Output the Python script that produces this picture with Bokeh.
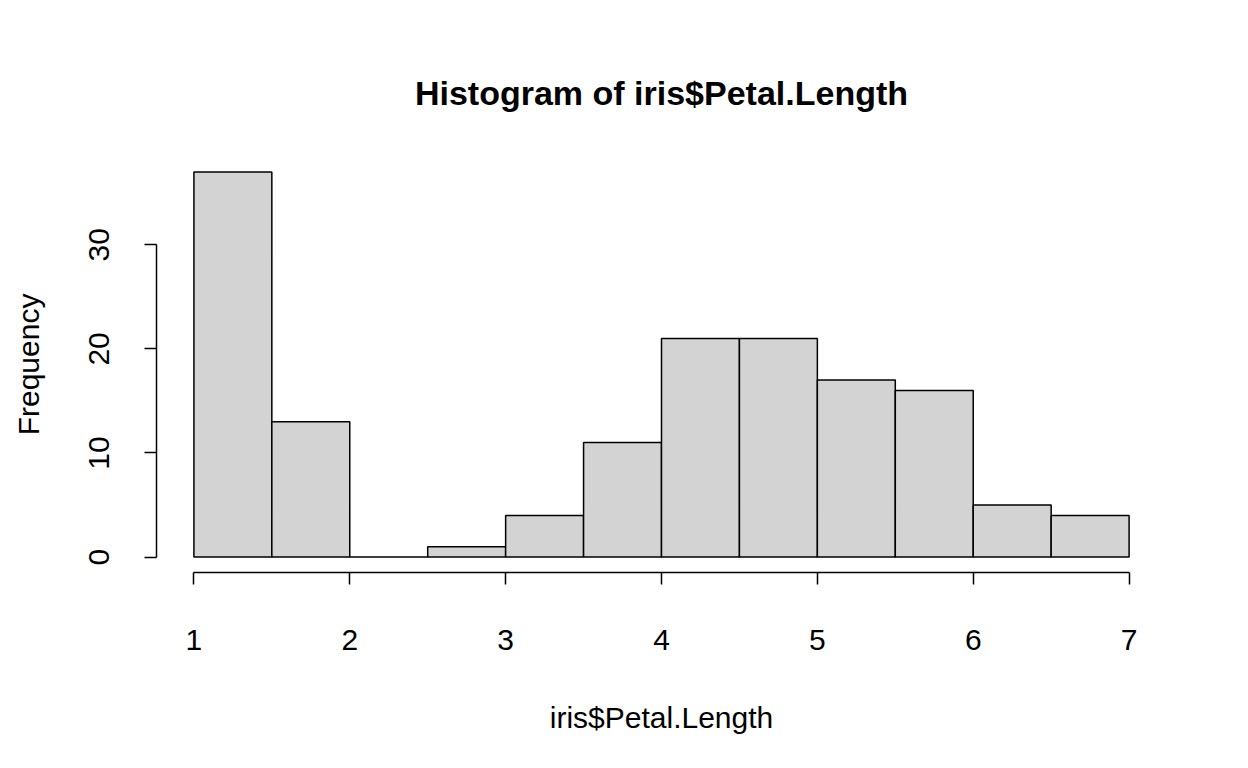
from bokeh.plotting import figure
from bokeh.models import Range1d, FixedTicker
from bokeh.embed import file_html
from bokeh.resources import INLINE

# histogram bins of iris$Petal.Length
bin_left = [1.0, 1.5, 2.0, 2.5, 3.0, 3.5, 4.0, 4.5, 5.0, 5.5, 6.0, 6.5]
bin_right = [1.5, 2.0, 2.5, 3.0, 3.5, 4.0, 4.5, 5.0, 5.5, 6.0, 6.5, 7.0]
counts = [37, 13, 0, 1, 4, 11, 21, 21, 17, 16, 5, 4]
x_ticks = [1, 2, 3, 4, 5, 6, 7]
y_ticks = [0, 10, 20, 30]

FONT = "Liberation Sans"

p = figure(width=1232, height=752, output_backend="svg", toolbar_location=None,
           x_range=Range1d(0.76, 7.24), y_range=Range1d(-1.48, 38.48),
           title="Histogram of iris$Petal.Length",
           min_border_left=156, min_border_right=66, min_border_bottom=180, min_border_top=156)
p.outline_line_color = None
p.xgrid.visible = False
p.ygrid.visible = False

p.title.align = "center"
p.title.text_font = FONT
p.title.text_font_size = "34px"
p.title.text_font_style = "bold"
p.title.text_color = "black"
p.title.standoff = 89
p.title.offset = 0

p.quad(left=bin_left, right=bin_right, bottom=0, top=counts,
       fill_color="#D3D3D3", line_color="black", line_width=1.5)

for ax, ticks in ((p.xaxis[0], x_ticks), (p.yaxis[0], y_ticks)):
    ax.ticker = FixedTicker(ticks=ticks)
    ax.bounds = (ticks[0], ticks[-1])
    ax.major_tick_out = 12
    ax.major_tick_in = 0
    ax.minor_tick_out = 0
    ax.minor_tick_in = 0
    ax.axis_line_width = 1.5
    ax.major_tick_line_width = 1.5
    ax.major_label_text_font = FONT
    ax.major_label_text_font_size = "30px"
    ax.major_label_text_color = "black"
    ax.axis_label_text_font = FONT
    ax.axis_label_text_font_size = "30px"
    ax.axis_label_text_font_style = "normal"
    ax.axis_label_text_color = "black"

p.xaxis.axis_label = "iris$Petal.Length"
p.xaxis.major_label_standoff = 45
p.xaxis.axis_label_standoff = 48
p.yaxis.axis_label = "Frequency"
p.yaxis.major_label_orientation = "vertical"
p.yaxis.major_label_standoff = 35
p.yaxis.axis_label_standoff = 42

open("out.html", "w").write(file_html(p, INLINE))
